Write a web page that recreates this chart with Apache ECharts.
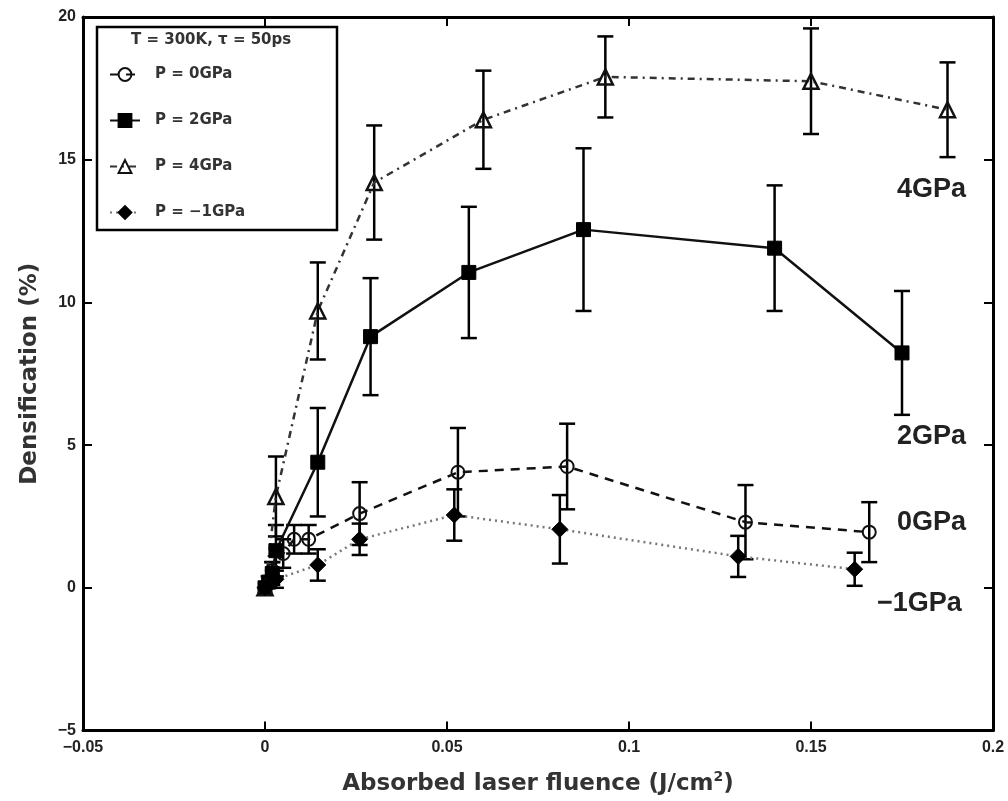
<!DOCTYPE html>
<html><head><meta charset="utf-8">
<script src="https://cdn.jsdelivr.net/npm/echarts@6/dist/echarts.min.js"></script>
<style>html,body{margin:0;padding:0;background:#fff}#c{width:1008px;height:801px}</style>
</head><body><div id="c"></div>
<script>
// ---- data ----
const seriesNames = ['P = 0GPa', 'P = 2GPa', 'P = 4GPa', 'P = \u22121GPa'];
const endLabels = ['0GPa', '2GPa', '4GPa', '\u22121GPa'];
const legendTitle = 'T = 300K, \u03c4 = 50ps';

const fluence0 = [0, 0.002, 0.005, 0.008, 0.012, 0.026, 0.053, 0.083, 0.132, 0.166];
const dens0    = [0, 0.6, 1.2, 1.7, 1.7, 2.6, 4.05, 4.25, 2.3, 1.95];
const err0     = [0, 0.3, 0.5, 0.5, 0.5, 1.1, 1.55, 1.5, 1.3, 1.05];

const fluence2 = [0, 0.001, 0.002, 0.003, 0.0145, 0.029, 0.056, 0.0875, 0.140, 0.175];
const dens2    = [0, 0.2, 0.5, 1.3, 4.4, 8.8, 11.05, 12.55, 11.9, 8.23];
const err2     = [0, 0.2, 0.4, 0.9, 1.9, 2.05, 2.3, 2.85, 2.2, 2.17];

const fluence4 = [0, 0.003, 0.0145, 0.030, 0.060, 0.0935, 0.150, 0.1875];
const dens4    = [0, 3.2, 9.7, 14.2, 16.4, 17.9, 17.75, 16.75];
const err4     = [0, 1.4, 1.7, 2.0, 1.72, 1.42, 1.85, 1.66];

const fluenceM1 = [0, 0.001, 0.003, 0.0145, 0.026, 0.052, 0.081, 0.130, 0.162];
const densM1    = [0, 0.1, 0.3, 0.8, 1.7, 2.55, 2.05, 1.1, 0.65];
const errM1     = [0, 0.1, 0.3, 0.55, 0.55, 0.9, 1.2, 0.72, 0.58];

const xTickMin = -0.05, xTickMax = 0.2, xTickStep = 0.05;
const yTickMin = -5, yTickMax = 20, yTickStep = 5;

// ---- chart ----
const NARROW = "'Liberation Sans Narrow','Liberation Sans',Arial,sans-serif";
const WIDE = "'DejaVu Sans',Verdana,sans-serif";
const BIG = "'Liberation Sans',Arial,sans-serif";
const chart = echarts.init(document.getElementById('c'), null, {renderer: 'canvas'});
function pts(xs, ys) { return xs.map((x, i) => [x, ys[i]]); }
function bars(xs, ys, es) { return xs.map((x, i) => [x, ys[i] - es[i], ys[i] + es[i]]); }
function errSeries(name, data) {
  return {
    type: 'custom', name: name, data: data, z: 3, silent: true,
    encode: {x: 0, y: [1, 2]},
    renderItem: function (params, api) {
      const x = api.value(0), lo = api.value(1), hi = api.value(2);
      if (!(hi - lo > 0)) return null;
      const p1 = api.coord([x, lo]), p2 = api.coord([x, hi]);
      const w = 8;
      const style = {stroke: '#000', lineWidth: 2.5};
      return {type: 'group', children: [
        {type: 'line', shape: {x1: p1[0], y1: p1[1], x2: p2[0], y2: p2[1]}, style: style},
        {type: 'line', shape: {x1: p1[0] - w, y1: p1[1], x2: p1[0] + w, y2: p1[1]}, style: style},
        {type: 'line', shape: {x1: p2[0] - w, y1: p2[1], x2: p2[0] + w, y2: p2[1]}, style: style}
      ]};
    }
  };
}
const minus = v => String(v).replace('-', '\u2212');
const axisCommon = {
  axisLine: {show: true, onZero: false, lineStyle: {color: '#000', width: 3}},
  axisTick: {show: true, inside: true, length: 9, lineStyle: {color: '#000', width: 2}},
  splitLine: {show: false}
};
const labelStyle = {color: '#222', fontFamily: NARROW, fontSize: 16, fontWeight: 'bold'};

chart.setOption({
  animation: false,
  backgroundColor: '#fff',
  grid: {left: 83, top: 17, right: 15, bottom: 67, containLabel: false},
  xAxis: [
    Object.assign({type: 'value', position: 'bottom', min: xTickMin, max: xTickMax, interval: xTickStep,
      axisLabel: Object.assign({margin: 9, formatter: minus}, labelStyle),
      name: 'Absorbed laser fluence (J/cm{sup|2})', nameLocation: 'middle', nameGap: 40,
      nameTextStyle: {color: '#333', fontFamily: WIDE, fontSize: 23, fontWeight: 'bold',
        rich: {sup: {fontSize: 14, fontWeight: 'bold', verticalAlign: 'top', padding: [0, 0, 14, 0], fontFamily: WIDE, color: '#333'}}}
    }, axisCommon),
    Object.assign({type: 'value', position: 'top', min: xTickMin, max: xTickMax, interval: xTickStep,
      axisLabel: {show: false}}, axisCommon)
  ],
  yAxis: [
    Object.assign({type: 'value', position: 'left', min: yTickMin, max: yTickMax, interval: yTickStep,
      axisLabel: Object.assign({margin: 7, formatter: minus}, labelStyle),
      name: 'Densification (%)', nameLocation: 'middle', nameGap: 41,
      nameTextStyle: {color: '#333', fontFamily: WIDE, fontSize: 23, fontWeight: 'bold'}
    }, axisCommon),
    Object.assign({type: 'value', position: 'right', min: yTickMin, max: yTickMax, interval: yTickStep,
      axisLabel: {show: false}}, axisCommon)
  ],
  legend: {
    orient: 'vertical', left: 104, top: 62, itemWidth: 30, itemHeight: 16, itemGap: 31,
    data: seriesNames,
    textStyle: {color: '#333', fontFamily: WIDE, fontSize: 15, fontWeight: 'bold', padding: [0, 0, 0, 10]},
    selectedMode: false
  },
  graphic: [
    {type: 'rect', shape: {x: 97, y: 27, width: 240, height: 203}, z: 10,
      style: {fill: 'rgba(255,255,255,0)', stroke: '#000', lineWidth: 2.5}},
    {type: 'text', x: 131, y: 33, z: 11,
      style: {text: legendTitle, fill: '#333', font: "bold 15px " + WIDE}},
    {type: 'text', x: 897, y: 190, style: {text: endLabels[2], fill: '#222', verticalAlign: 'middle', font: "bold 27px " + BIG}},
    {type: 'text', x: 897, y: 437, style: {text: endLabels[1], fill: '#222', verticalAlign: 'middle', font: "bold 27px " + BIG}},
    {type: 'text', x: 897, y: 523, style: {text: endLabels[0], fill: '#222', verticalAlign: 'middle', font: "bold 27px " + BIG}},
    {type: 'text', x: 877, y: 604, style: {text: endLabels[3], fill: '#222', verticalAlign: 'middle', font: "bold 27px " + BIG}}
  ],
  series: [
    errSeries('e0', bars(fluence0, dens0, err0)),
    errSeries('e2', bars(fluence2, dens2, err2)),
    errSeries('e4', bars(fluence4, dens4, err4)),
    errSeries('eM1', bars(fluenceM1, densM1, errM1)),
    {type: 'line', name: seriesNames[0], data: pts(fluence0, dens0), z: 4,
      symbol: 'circle', symbolSize: 13,
      itemStyle: {color: 'rgba(255,255,255,0)', borderColor: '#111', borderWidth: 2},
      lineStyle: {color: '#111', width: 2.5, type: [9, 7]}},
    {type: 'line', name: seriesNames[1], data: pts(fluence2, dens2), z: 4,
      symbol: 'rect', symbolSize: 14,
      itemStyle: {color: '#000', borderColor: '#000', borderWidth: 1},
      lineStyle: {color: '#111', width: 2.5, type: 'solid'}},
    {type: 'line', name: seriesNames[2], data: pts(fluence4, dens4), z: 4,
      symbol: 'triangle', symbolSize: 15,
      itemStyle: {color: 'rgba(255,255,255,0)', borderColor: '#111', borderWidth: 2.5},
      lineStyle: {color: '#333', width: 2.5, type: [7, 5, 2, 5]}},
    {type: 'line', name: seriesNames[3], data: pts(fluenceM1, densM1), z: 4,
      symbol: 'diamond', symbolSize: 16,
      itemStyle: {color: '#000', borderColor: '#000', borderWidth: 1},
      lineStyle: {color: '#777', width: 2.5, type: [2, 4]}}
  ]
});
</script>
</body></html>
